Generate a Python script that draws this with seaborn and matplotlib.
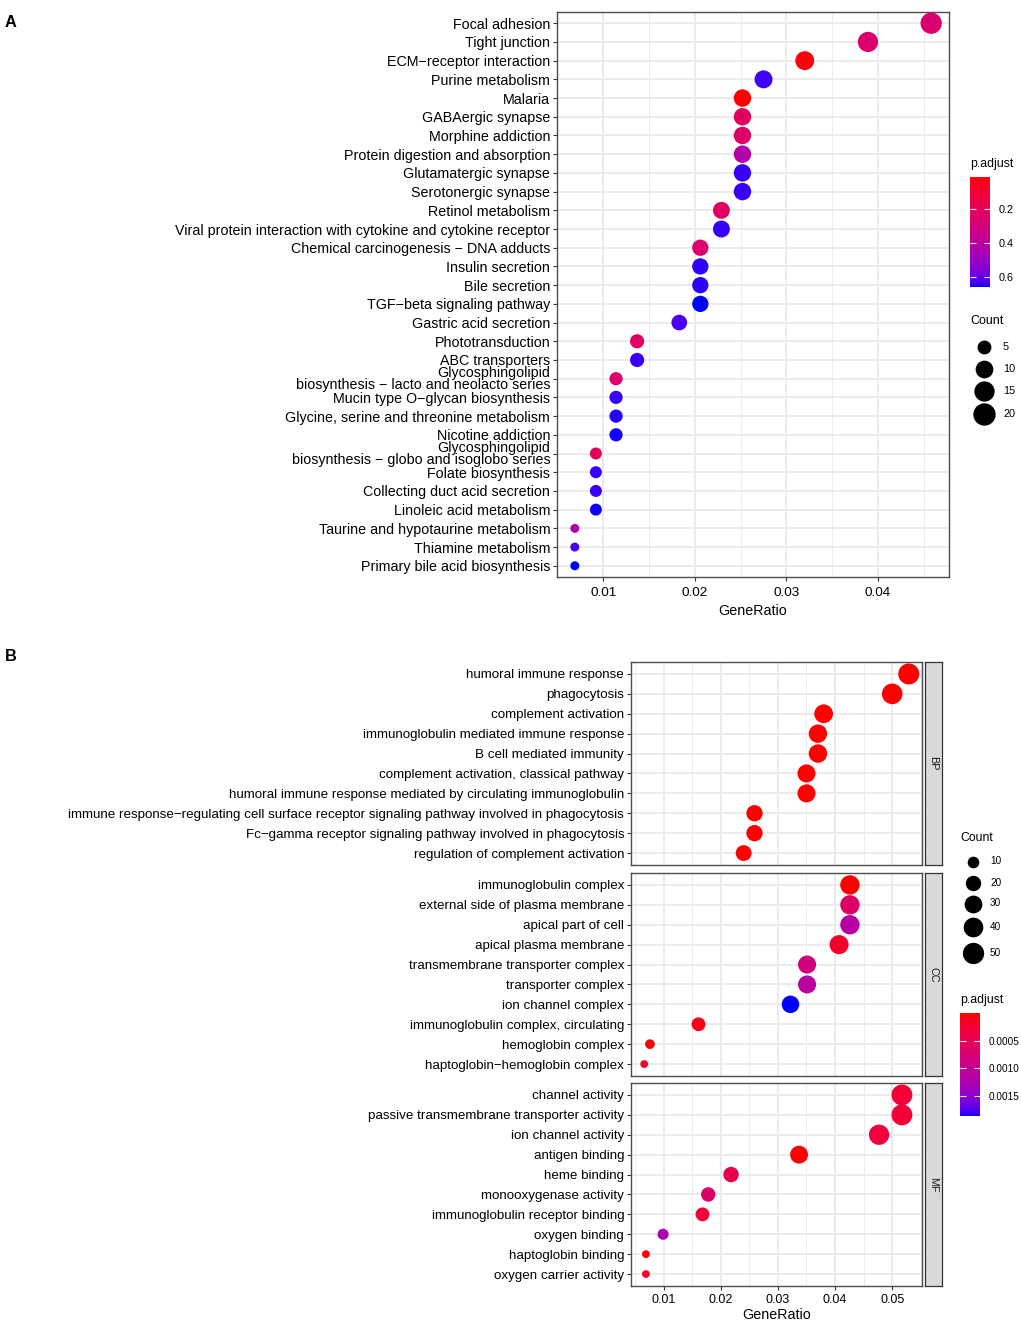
import numpy as np
import pandas as pd
import matplotlib
matplotlib.use("Agg")
import matplotlib.pyplot as plt
from matplotlib.colors import ListedColormap, Normalize
from matplotlib.cm import ScalarMappable
import seaborn as sns

plt.rcParams['font.family'] = ['Liberation Sans', 'DejaVu Sans']

# ---------------- DATA: panel A (KEGG) ----------------
kegg_terms = [
    "Focal adhesion", "Tight junction", "ECM\u2212receptor interaction", "Purine metabolism",
    "Malaria", "GABAergic synapse", "Morphine addiction", "Protein digestion and absorption",
    "Glutamatergic synapse", "Serotonergic synapse", "Retinol metabolism",
    "Viral protein interaction with cytokine and cytokine receptor",
    "Chemical carcinogenesis \u2212 DNA adducts", "Insulin secretion", "Bile secretion",
    "TGF\u2212beta signaling pathway", "Gastric acid secretion", "Phototransduction",
    "ABC transporters", "Glycosphingolipid\nbiosynthesis \u2212 lacto and neolacto series",
    "Mucin type O\u2212glycan biosynthesis", "Glycine, serine and threonine metabolism",
    "Nicotine addiction", "Glycosphingolipid\nbiosynthesis \u2212 globo and isoglobo series",
    "Folate biosynthesis", "Collecting duct acid secretion", "Linoleic acid metabolism",
    "Taurine and hypotaurine metabolism", "Thiamine metabolism", "Primary bile acid biosynthesis",
]
kegg_ratio = [0.0458, 0.0389, 0.0320, 0.0275, 0.0252, 0.0252, 0.0252, 0.0252, 0.0252, 0.0252,
              0.0229, 0.0229, 0.0206, 0.0206, 0.0206, 0.0206, 0.0183, 0.0137, 0.0137, 0.0114,
              0.0114, 0.0114, 0.0114, 0.0092, 0.0092, 0.0092, 0.0092, 0.0069, 0.0069, 0.0069]
kegg_count = [20, 17, 14, 12, 11, 11, 11, 11, 11, 11, 10, 10, 9, 9, 9, 9, 8, 6, 6, 5,
              5, 5, 5, 4, 4, 4, 4, 3, 3, 3]
kegg_padj = [0.26, 0.25, 0.02, 0.635, 0.015, 0.22, 0.23, 0.43, 0.64, 0.64,
             0.22, 0.64, 0.25, 0.645, 0.645, 0.66, 0.625, 0.22, 0.64, 0.25,
             0.64, 0.65, 0.655, 0.21, 0.64, 0.64, 0.655, 0.42, 0.63, 0.66]
kegg_padj_range = (0.01, 0.66)
kegg_size_breaks = [5, 10, 15, 20]
kegg_color_breaks = [0.2, 0.4, 0.6]

# ---------------- DATA: panel B (GO) ----------------
go_bp_terms = [
    "humoral immune response", "phagocytosis", "complement activation",
    "immunoglobulin mediated immune response", "B cell mediated immunity",
    "complement activation, classical pathway",
    "humoral immune response mediated by circulating immunoglobulin",
    "immune response\u2212regulating cell surface receptor signaling pathway involved in phagocytosis",
    "Fc\u2212gamma receptor signaling pathway involved in phagocytosis",
    "regulation of complement activation",
]
go_bp_ratio = [0.0529, 0.0500, 0.0380, 0.0370, 0.0370, 0.0350, 0.0350, 0.0259, 0.0259, 0.0240]
go_bp_count = [55, 52, 40, 38, 38, 36, 36, 27, 27, 25]
go_bp_padj = [1e-9, 1e-9, 1e-9, 1e-9, 1e-9, 1e-9, 1e-9, 1e-9, 1e-9, 1e-9]

go_cc_terms = [
    "immunoglobulin complex", "external side of plasma membrane", "apical part of cell",
    "apical plasma membrane", "transmembrane transporter complex", "transporter complex",
    "ion channel complex", "immunoglobulin complex, circulating", "hemoglobin complex",
    "haptoglobin\u2212hemoglobin complex",
]
go_cc_ratio = [0.0426, 0.0426, 0.0426, 0.0407, 0.0351, 0.0351, 0.0322, 0.0161, 0.0076, 0.0066]
go_cc_count = [44, 44, 44, 42, 36, 36, 33, 17, 8, 7]
go_cc_padj = [1e-6, 0.00065, 0.00115, 0.00019, 0.00084, 0.00112, 0.00186, 0.0001, 0.00002, 0.00015]

go_mf_terms = [
    "channel activity", "passive transmembrane transporter activity", "ion channel activity",
    "antigen binding", "heme binding", "monooxygenase activity",
    "immunoglobulin receptor binding", "oxygen binding", "haptoglobin binding",
    "oxygen carrier activity",
]
go_mf_ratio = [0.0517, 0.0517, 0.0477, 0.0337, 0.0218, 0.0178, 0.0168, 0.0099, 0.0069, 0.0069]
go_mf_count = [54, 54, 50, 35, 23, 19, 17, 10, 7, 7]
go_mf_padj = [0.00028, 0.00028, 0.00032, 0.00001, 0.00047, 0.0007, 0.00028, 0.00127, 0.00003, 0.0002]

go_ontologies = ["BP", "CC", "MF"]
go_padj_range = (0.0, 0.00186)
go_size_breaks = [10, 20, 30, 40, 50]
go_color_breaks = [0.0005, 0.0010, 0.0015]
go_color_labels = ["0.0005", "0.0010", "0.0015"]

# ---------------- colour map: ggplot-like Lab gradient red -> blue ----------------
_WHITE = np.array([0.95047, 1.0, 1.08883])
_M = np.array([[0.4124564, 0.3575761, 0.1804375],
               [0.2126729, 0.7151522, 0.0721750],
               [0.0193339, 0.1191920, 0.9503041]])


def srgb_to_lab(c):
    c = np.asarray(c, float)
    lin = np.where(c <= 0.04045, c / 12.92, ((c + 0.055) / 1.055) ** 2.4)
    xyz = _M @ lin / _WHITE
    d = 6 / 29
    f = np.where(xyz > d ** 3, np.cbrt(xyz), xyz / (3 * d * d) + 4 / 29)
    return np.array([116 * f[1] - 16, 500 * (f[0] - f[1]), 200 * (f[1] - f[2])])


def lab_to_srgb(lab):
    L, a, b = lab
    fy = (L + 16) / 116
    fx = fy + a / 500
    fz = fy - b / 200
    d = 6 / 29
    f = np.array([fx, fy, fz])
    xyz = np.where(f > d, f ** 3, 3 * d * d * (f - 4 / 29)) * _WHITE
    lin = np.linalg.solve(_M, xyz)
    lin = np.clip(lin, 0, 1)
    c = np.where(lin <= 0.0031308, 12.92 * lin, 1.055 * lin ** (1 / 2.4) - 0.055)
    return np.clip(c, 0, 1)


lab_r = srgb_to_lab([1, 0, 0])
lab_b = srgb_to_lab([0, 0, 1])
cmap = ListedColormap([lab_to_srgb(lab_r + (lab_b - lab_r) * t) for t in np.linspace(0, 1, 256)])

# ---------------- layout helpers ----------------
W, H = 1021, 1326
DPI = 100
fig = plt.figure(figsize=(W / DPI, H / DPI), dpi=DPI)
PX = 72.0 / DPI


def add_px_axes(x0, y0, x1, y1, **kw):
    return fig.add_axes([x0 / W, 1 - y1 / H, (x1 - x0) / W, (y1 - y0) / H], **kw)


def make_size_map(cmin, cmax, dmin, dmax):
    def f(c):
        t = np.sqrt(max(c - cmin, 0) / (cmax - cmin))
        d = dmin + (dmax - dmin) * t
        return (d * PX) ** 2
    return f


GRID = "#EBEBEB"
BORDER = "#4D4D4D"


def style_axes(ax, ylab_size, xlab_size, show_x=True, xpad=2.2, minor_step=0.005):
    ax.set_facecolor("white")
    ax.xaxis.set_major_locator(matplotlib.ticker.MultipleLocator(0.01))
    ax.xaxis.set_minor_locator(matplotlib.ticker.MultipleLocator(minor_step))
    ax.xaxis.set_major_formatter(matplotlib.ticker.FormatStrFormatter("%.2f"))
    ax.grid(True, which="major", color=GRID, lw=1.4, zorder=0)
    ax.grid(True, which="minor", axis="x", color=GRID, lw=0.7, zorder=0)
    ax.set_axisbelow(True)
    for sp in ax.spines.values():
        sp.set_color(BORDER)
        sp.set_linewidth(1.0)
    ax.tick_params(axis="both", which="major", length=2.75, width=0.8, color="#333333",
                   pad=2.2, labelcolor="black")
    ax.tick_params(axis="x", which="major", pad=xpad)
    ax.tick_params(axis="x", which="minor", length=0)
    ax.tick_params(axis="y", labelsize=ylab_size)
    ax.tick_params(axis="x", labelsize=xlab_size)
    if not show_x:
        ax.tick_params(axis="x", which="both", labelbottom=False, length=0)
    ax.set_xlabel("")
    ax.set_ylabel("")


# ================= Panel A =================
dfA = pd.DataFrame({"Description": kegg_terms, "GeneRatio": kegg_ratio,
                    "Count": kegg_count, "p.adjust": kegg_padj})
sizeA = make_size_map(min(kegg_count), max(kegg_count), 9.0, 21.3)
normA = Normalize(*kegg_padj_range)

axA = add_px_axes(557, 12, 949, 577)
sns.scatterplot(data=dfA, x="GeneRatio", y="Description", hue="p.adjust", size="Count",
                palette=cmap, hue_norm=normA,
                sizes={c: sizeA(c) for c in sorted(set(kegg_count))},
                linewidth=0, legend=False, ax=axA, zorder=3, clip_on=False)
rngA = max(kegg_ratio) - min(kegg_ratio)
axA.set_xlim(min(kegg_ratio) - 0.05 * rngA, max(kegg_ratio) + 0.05 * rngA)
nA = len(kegg_terms)
axA.set_ylim(nA - 1 + 0.6, -0.6)
style_axes(axA, 10.3, 9.7, xpad=4.8)
for lbl in axA.get_yticklabels():
    lbl.set_linespacing(0.82)
axA.set_xlabel("GeneRatio", fontsize=10.3, labelpad=3)

fig.text(10.8 / W, 1 - 22.5 / H, "A", fontsize=11.8, fontweight="bold", ha="center", va="center")

# legend A: colour bar
fig.text(970 / W, 1 - 164 / H, "p.adjust", fontsize=8.8, ha="left", va="center")
caxA = add_px_axes(970, 177, 990, 287)
cbA = fig.colorbar(ScalarMappable(norm=normA, cmap=cmap), cax=caxA)
cbA.outline.set_visible(False)
caxA.invert_yaxis()
cbA.set_ticks(kegg_color_breaks)
cbA.set_ticklabels(["0.2", "0.4", "0.6"])
caxA.tick_params(direction="in", length=4, width=0.8, color="white", left=True, right=True,
                 labelsize=7.8, pad=6)

# legend A: size
leg = add_px_axes(0, 0, W, H)
leg.set_xlim(0, W)
leg.set_ylim(H, 0)
leg.axis("off")
leg.patch.set_alpha(0)
fig.text(970 / W, 1 - 321 / H, "Count", fontsize=9, ha="left", va="center")
for c, yy in zip(kegg_size_breaks, [346.5, 368.5, 391, 414]):
    leg.scatter([984], [yy], s=sizeA(c) * 1.1, color="black", linewidth=0)
    leg.text(1003, yy, str(c), fontsize=7.8, ha="left", va="center")

# ================= Panel B =================
go_sets = {
    "BP": (go_bp_terms, go_bp_ratio, go_bp_count, go_bp_padj),
    "CC": (go_cc_terms, go_cc_ratio, go_cc_count, go_cc_padj),
    "MF": (go_mf_terms, go_mf_ratio, go_mf_count, go_mf_padj),
}
dfB = pd.concat([pd.DataFrame({"ONTOLOGY": k, "Description": v[0], "GeneRatio": v[1],
                               "Count": v[2], "p.adjust": v[3]}) for k, v in go_sets.items()],
                ignore_index=True)
sizeB = make_size_map(dfB["Count"].min(), dfB["Count"].max(), 7.8, 21.0)
normB = Normalize(*go_padj_range)
rngB = dfB["GeneRatio"].max() - dfB["GeneRatio"].min()
xlimB = (dfB["GeneRatio"].min() - 0.05 * rngB, dfB["GeneRatio"].max() + 0.05 * rngB)

panel_px = {"BP": (662, 865), "CC": (873, 1076), "MF": (1083, 1286)}
for ont in go_ontologies:
    sub = dfB[dfB["ONTOLOGY"] == ont]
    y0, y1 = panel_px[ont]
    ax = add_px_axes(631, y0, 922, y1)
    sns.scatterplot(data=sub, x="GeneRatio", y="Description", hue="p.adjust", size="Count",
                    palette=cmap, hue_norm=normB,
                    sizes={c: sizeB(c) for c in sorted(set(sub["Count"]))},
                    linewidth=0, legend=False, ax=ax, zorder=3, clip_on=False)
    ax.set_xlim(*xlimB)
    n = len(sub)
    ax.set_ylim(n - 1 + 0.6, -0.6)
    style_axes(ax, 9.6, 9.0, show_x=(ont == "MF"), xpad=3.0)
    if ont == "MF":
        ax.set_xlabel("GeneRatio", fontsize=10.3, labelpad=1.5)
    # strip
    sax = add_px_axes(925, y0, 942, y1)
    sax.set_facecolor("#D9D9D9")
    sax.set_xticks([])
    sax.set_yticks([])
    for sp in sax.spines.values():
        sp.set_color("#333333")
        sp.set_linewidth(0.9)
    sax.text(0.5, 0.5, ont, rotation=-90, ha="center", va="center", fontsize=7.8,
             color="#1A1A1A", transform=sax.transAxes)

fig.text(10.5 / W, 1 - 656.5 / H, "B", fontsize=11.8, fontweight="bold", ha="center", va="center")

# legend B: size
fig.text(960 / W, 1 - 838 / H, "Count", fontsize=8.8, ha="left", va="center")
for c, yy in zip(go_size_breaks, [861.5, 882.5, 903.5, 927, 953]):
    leg.scatter([973], [yy], s=sizeB(c) * 1.1, color="black", linewidth=0)
    leg.text(990, yy, str(c), fontsize=7.2, ha="left", va="center")

# legend B: colour bar
fig.text(960 / W, 1 - 1000 / H, "p.adjust", fontsize=8.8, ha="left", va="center")
caxB = add_px_axes(960, 1013, 980, 1116)
cbB = fig.colorbar(ScalarMappable(norm=normB, cmap=cmap), cax=caxB)
cbB.outline.set_visible(False)
caxB.invert_yaxis()
cbB.set_ticks(go_color_breaks)
cbB.set_ticklabels(go_color_labels)
caxB.tick_params(direction="in", length=4, width=0.8, color="white", left=True, right=True,
                 labelsize=7.2, pad=6)

fig.savefig("out.png", dpi=DPI, facecolor="white")
